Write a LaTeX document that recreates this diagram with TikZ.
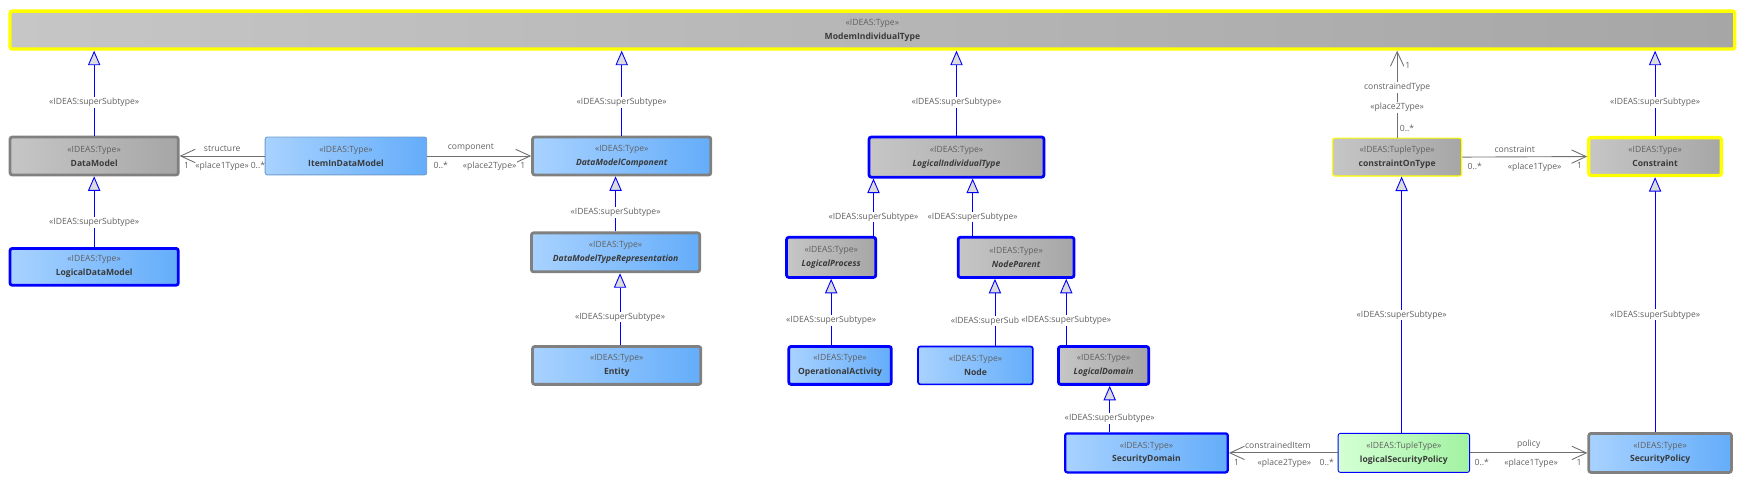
\documentclass[tikz,border=0pt]{standalone}
\usepackage{fontspec}
\setmainfont{Open Sans}
\usetikzlibrary{arrows.meta}
\definecolor{grayA}{HTML}{C6C6C6}
\definecolor{grayB}{HTML}{A6A6A6}
\definecolor{blueA}{HTML}{A8D2FF}
\definecolor{blueB}{HTML}{64ADFA}
\definecolor{greenA}{HTML}{D4FFD4}
\definecolor{greenB}{HTML}{A2F2A2}
\definecolor{stereo}{HTML}{606060}
\definecolor{name}{HTML}{3A3A3A}
\definecolor{edgegray}{HTML}{707070}
\definecolor{boxgray}{HTML}{808080}
\definecolor{umlblue}{HTML}{0000FF}
\definecolor{thinblue}{HTML}{6E9AD0}
\definecolor{umlyellow}{HTML}{FFFF00}
\definecolor{trifill}{HTML}{DCDCDC}
% stereotype over class name
\newcommand{\cls}[2]{{\color{stereo}«IDEAS:#1»}\\{\color{name}\bfseries #2}}
\begin{document}
\begin{tikzpicture}[x=1pt, y=-1pt,
    font=\fontsize{7.7}{12.5}\selectfont,
    box/.style={rounded corners=2pt, align=center, minimum height=34pt, inner sep=0pt},
    graybox/.style={box, left color=grayA, right color=grayB},
    bluebox/.style={box, left color=blueA, right color=blueB},
    greenbox/.style={box, left color=greenA, right color=greenB},
    gen/.style={draw=umlblue, line width=0.8pt, -{Triangle[length=13pt, width=11pt, fill=trifill]}},
    assoc/.style={draw=edgegray, line width=0.8pt, -{Straight Barb[length=13pt, width=12pt]}},
    lbl/.style={text=stereo, inner sep=1pt},
    genlbl/.style={lbl, fill=white},
    under/.style={lbl, below=4pt},
    over/.style={lbl, above=2.5pt},
  ]
  \useasboundingbox (0,0) rectangle (1568,432.6);

  % top row
  \node[graybox, draw=umlyellow, line width=3pt, minimum width=1548pt] (tp) at (783,27) {\cls{Type}{ModemIndividualType}};

  % second row
  \node[graybox, draw=boxgray, line width=2.5pt, minimum width=151pt] (dm) at (84.5,140) {\cls{Type}{DataModel}};
  \node[bluebox, draw=thinblue, line width=0.8pt, minimum width=145pt] (item) at (310.5,140) {\cls{Type}{ItemInDataModel}};
  \node[bluebox, draw=boxgray, line width=2.5pt, minimum width=160pt] (dmc) at (558,140) {\cls{Type}{\itshape DataModelComponent}};
  \node[graybox, draw=umlblue, line width=2.5pt, minimum width=157pt, minimum height=36pt] (lit) at (858.5,141) {\cls{Type}{\itshape LogicalIndividualType}};
  \node[graybox, draw=umlyellow, line width=1pt, minimum width=116pt] (cot) at (1254,141) {\cls{TupleType}{constraintOnType}};
  \node[graybox, draw=umlyellow, line width=3pt, minimum width=119pt] (con) at (1485.5,140.5) {\cls{Type}{Constraint}};

  % third row
  \node[bluebox, draw=umlblue, line width=2.5pt, minimum width=151pt, minimum height=33pt] (ldm) at (84.5,239.5) {\cls{Type}{LogicalDataModel}};
  \node[bluebox, draw=boxgray, line width=2.5pt, minimum width=151pt, minimum height=35pt] (dmtr) at (552.5,226.5) {\cls{Type}{\itshape DataModelTypeRepresentation}};
  \node[graybox, draw=umlblue, line width=2.5pt, minimum width=80pt, minimum height=36pt] (lp) at (746,231) {\cls{Type}{\itshape LogicalProcess}};
  \node[graybox, draw=umlblue, line width=2.5pt, minimum width=104pt, minimum height=36pt] (np) at (912,231) {\cls{Type}{\itshape NodeParent}};

  % fourth row
  \node[bluebox, draw=boxgray, line width=2.5pt, minimum width=151pt] (ent) at (553.5,328) {\cls{Type}{Entity}};
  \node[bluebox, draw=umlblue, line width=2.5pt, minimum width=92pt] (oa) at (754,328) {\cls{Type}{OperationalActivity}};
  \node[bluebox, draw=umlblue, line width=1.5pt, minimum width=103pt] (nd) at (875.5,328) {\cls{Type}{Node}};
  \node[graybox, draw=umlblue, line width=2.5pt, minimum width=81pt] (ld) at (990.5,328) {\cls{Type}{\itshape LogicalDomain}};

  % bottom row
  \node[bluebox, draw=umlblue, line width=2pt, minimum width=146pt, minimum height=35pt] (sd) at (1029,406.5) {\cls{Type}{SecurityDomain}};
  \node[greenbox, draw=umlblue, line width=0.8pt, minimum width=118pt, minimum height=35pt] (lsp) at (1260,406.5) {\cls{TupleType}{logicalSecurityPolicy}};
  \node[bluebox, draw=boxgray, line width=2.5pt, minimum width=128pt, minimum height=35pt] (sp) at (1490,406.5) {\cls{Type}{SecurityPolicy}};

  % generalisations
  \draw[gen] (dm.north) -- (dm.north |- tp.south) node[genlbl, pos=0.39] {«IDEAS:superSubtype»};
  \draw[gen] (dmc.north) -- (dmc.north |- tp.south) node[genlbl, pos=0.39] {«IDEAS:superSubtype»};
  \draw[gen] (lit.north) -- (lit.north |- tp.south) node[genlbl, pos=0.39] {«IDEAS:superSubtype»};
  \draw[gen] (con.north) -- (con.north |- tp.south) node[genlbl, pos=0.39] {«IDEAS:superSubtype»};
  \draw[gen] (ldm.north) -- (dm.south) node[genlbl, pos=0.35] {«IDEAS:superSubtype»};
  \draw[gen] (dmtr.north) -- (dmtr.north |- dmc.south) node[genlbl, pos=0.35] {«IDEAS:superSubtype»};
  \draw[gen] ([xshift=3pt]ent.north) -- ([xshift=3pt]ent.north |- dmtr.south) node[genlbl, pos=0.39] {«IDEAS:superSubtype»};
  \draw[gen] ([xshift=38pt]lp.north) -- ([xshift=38pt]lp.north |- lit.south) node[genlbl, pos=0.33] {«IDEAS:superSubtype»};
  \draw[gen] ([xshift=-39pt]np.north) -- ([xshift=-39pt]np.north |- lit.south) node[genlbl, pos=0.33] {«IDEAS:superSubtype»};
  \draw[gen] (lp.south |- oa.north) -- (lp.south) node[genlbl, pos=0.37] {«IDEAS:superSubtype»};
  \draw[gen] ([xshift=17.5pt]nd.north) -- ([xshift=17.5pt]nd.north |- np.south) node[lbl, fill=white, pos=0.37, xshift=-9pt] {«IDEAS:superSub};
  \draw[gen] ([xshift=-33.5pt]ld.north) -- ([xshift=-33.5pt]ld.north |- np.south) node[genlbl, pos=0.37] {«IDEAS:superSubtype»};
  \draw[gen] ([xshift=-33pt]sd.north) -- ([xshift=-33pt]sd.north |- ld.south) node[genlbl, pos=0.3] {«IDEAS:superSubtype»};
  \draw[gen] ([xshift=-2pt]lsp.north) -- ([xshift=-2pt]lsp.north |- cot.south) node[genlbl, pos=0.46] {«IDEAS:superSubtype»};
  \draw[gen] (con.south |- sp.north) -- (con.south) node[genlbl, pos=0.46] {«IDEAS:superSubtype»};

  % associations
  \draw[assoc] (item.west) -- (dm.east)
    node[over, pos=0.5] {structure}
    node[under, pos=0.5] {«place1Type»}
    node[under, pos=0.92] {1}
    node[under, pos=0.08] {0..*};
  \draw[assoc] (item.east) -- (dmc.west)
    node[over, pos=0.42] {component}
    node[under, pos=0.13] {0..*}
    node[under, fill=white, pos=0.6] {«place2Type»}
    node[under, pos=0.92] {1};
  \draw[assoc] (cot.east) -- (con.west)
    node[over, pos=0.42] {constraint}
    node[under, pos=0.1] {0..*}
    node[under, pos=0.58] {«place1Type»}
    node[under, pos=0.94] {1};
  \draw[assoc] (cot.north) -- (cot.north |- tp.south)
    node[lbl, pos=0.11, right=1pt] {0..*}
    node[genlbl, pos=0.35] {«place2Type»}
    node[genlbl, pos=0.58] {constrainedType}
    node[lbl, pos=0.83, right=6pt] {1};
  \draw[assoc] (lsp.west) -- (sd.east)
    node[over, pos=0.55] {constrainedItem}
    node[under, pos=0.49] {«place2Type»}
    node[under, pos=0.93] {1}
    node[under, pos=0.1] {0..*};
  \draw[assoc] (lsp.east) -- (sp.west)
    node[over, pos=0.5] {policy}
    node[under, pos=0.1] {0..*}
    node[under, pos=0.52] {«place1Type»}
    node[under, pos=0.93] {1};
\end{tikzpicture}
\end{document}
